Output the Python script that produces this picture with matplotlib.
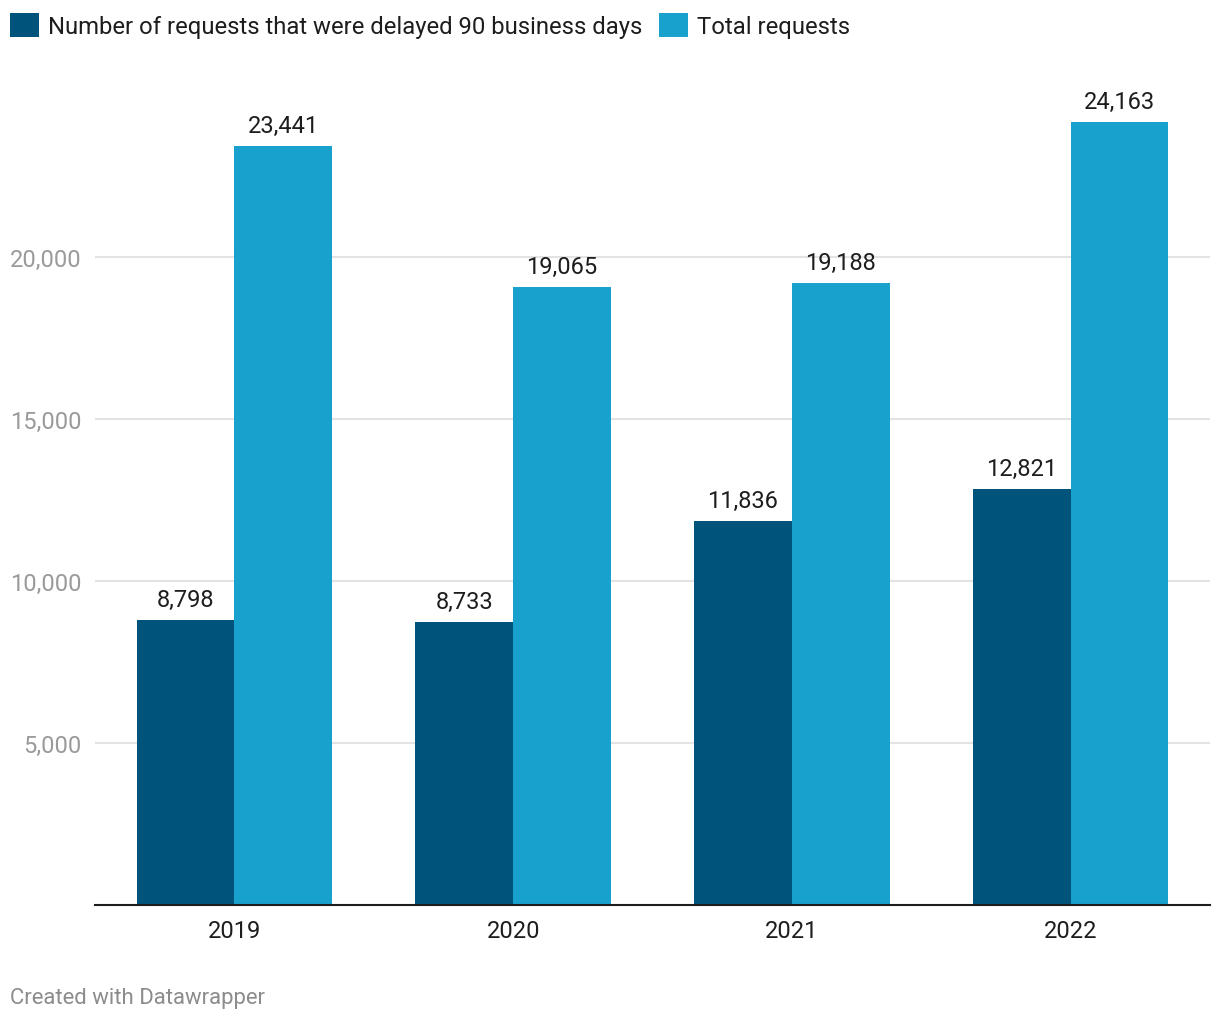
import matplotlib
matplotlib.use("Agg")
import matplotlib.pyplot as plt
import numpy as np

years = ["2019", "2020", "2021", "2022"]
series_names = ["Number of requests that were delayed 90 business days", "Total requests"]
delayed = [8798, 8733, 11836, 12821]
total = [23441, 19065, 19188, 24163]
yticks = [5000, 10000, 15000, 20000]

colors = ["#00547b", "#19a1cd"]

plt.rcParams['font.family'] = ['Roboto', 'DejaVu Sans']

W, H = 1220, 1020
fig = plt.figure(figsize=(W / 100, H / 100), dpi=100)

left, right = 95, 1210
base_y = 905.5
ymax = 25000
px_per_unit = 647.5 / 20000
top_y = base_y - ymax * px_per_unit
ax = fig.add_axes([left / W, 1 - base_y / H, (right - left) / W, (base_y - top_y) / H])

x = np.arange(len(years))
bw = 0.351
b1 = ax.bar(x - bw / 2, delayed, bw, color=colors[0], label=series_names[0], zorder=3)
b2 = ax.bar(x + bw / 2, total, bw, color=colors[1], label=series_names[1], zorder=3)

for bars, vals in ((b1, delayed), (b2, total)):
    for rect, v in zip(bars, vals):
        ax.annotate(f"{v:,}", (rect.get_x() + rect.get_width() / 2, v),
                    xytext=(0, 6.5), textcoords="offset points",
                    ha="center", va="bottom", fontsize=17, color="#1d1d1d", zorder=4)

ax.set_xlim(-0.5, 3.5)
ax.set_ylim(0, ymax)
ax.set_yticks(yticks)
ax.set_yticklabels([f"{t:,}" for t in yticks])
ax.set_xticks(x)
ax.set_xticklabels(years)
ax.tick_params(axis="y", length=0, pad=9.5, labelsize=17, labelcolor="#9a9a9a")
ax.tick_params(axis="x", length=0, pad=10.5, labelsize=17, labelcolor="#1d1d1d")
ax.grid(axis="y", color="#e3e3e3", linewidth=1.5, zorder=0)
for s in ["top", "right", "left"]:
    ax.spines[s].set_visible(False)
ax.spines["bottom"].set_color("#1d1d1d")
ax.spines["bottom"].set_linewidth(1.5)
ax.spines["bottom"].set_zorder(5)

leg = fig.legend(handles=[b1, b2], labels=series_names, loc="upper left",
                 bbox_to_anchor=(10 / W, 1 - 13.5 / H), ncol=2, frameon=False,
                 fontsize=17.2, handlelength=1.2, handleheight=1.2,
                 handletextpad=0.38, columnspacing=0.72, borderpad=0, borderaxespad=0)
for t in leg.get_texts():
    t.set_color("#1d1d1d")

fig.text(10 / W, 1 - 999 / H, "Created with Datawrapper", fontsize=15.9,
         color="#8c8c8c", ha="left", va="center")

fig.savefig("out.png", dpi=100)
